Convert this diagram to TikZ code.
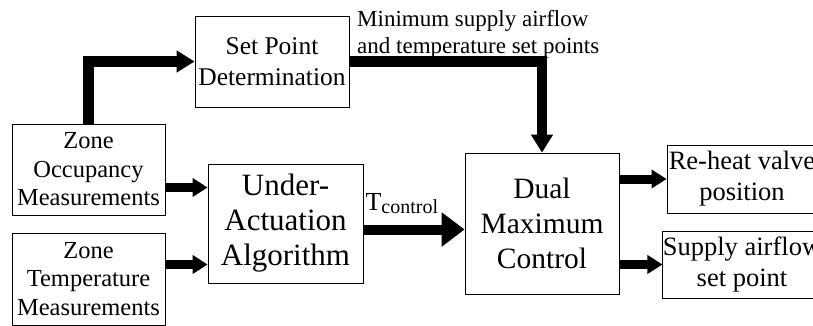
\documentclass[tikz,border=0pt]{standalone}
\usepackage{fontspec}
\setmainfont{Liberation Serif}
\usetikzlibrary{arrows.meta,positioning,calc}

\tikzset{
    block/.style={draw, line width=0.8pt, align=center, inner sep=0pt},
    bigarrow/.style={line width=10.5pt, -{Triangle[length=18pt,width=21pt]}},
    tarrow/.style={line width=10pt, -{Triangle[length=23pt,width=33pt]}},
    smallarrow/.style={line width=9pt, -{Triangle[length=15pt,width=18pt]}},
}

\begin{document}
\begin{tikzpicture}[x=1pt, y=-1pt]
    \path[use as bounding box] (0,0) rectangle (813,326);

    % Inputs
    \node[block, minimum width=153pt, minimum height=91pt, font=\fontsize{24.5}{28.5}\selectfont] (occ) at (88.5,169.5) {Zone\\Occupancy\\Measurements};
    \node[block, minimum width=153pt, minimum height=92pt, font=\fontsize{24.5}{28.5}\selectfont] (temp) at (88.5,279) {Zone\\Temperature\\Measurements};

    % Processing blocks
    \node[block, minimum width=154pt, minimum height=91pt, font=\fontsize{25.5}{31}\selectfont] (setpt) at (272,61.5) {Set Point\\Determination};
    \node[block, minimum width=155pt, minimum height=119pt, font=\fontsize{31}{35}\selectfont] (under) at (285.5,223.5) {Under-\\Actuation\\Algorithm};
    \node[block, minimum width=154pt, minimum height=141pt, font=\fontsize{29.5}{35}\selectfont] (dual) at (542,223.5) {Dual\\Maximum\\Control};

    % Outputs
    \node[block, minimum width=150pt, minimum height=68pt, font=\fontsize{26.5}{31}\selectfont] (reheat) at (742,179) {Re-heat valve\\position};
    \node[block, minimum width=150pt, minimum height=67pt, font=\fontsize{26.5}{31}\selectfont] (supply) at (742,264.5) {Supply airflow\\set point};

    % Set point path
    \draw[bigarrow] (occ.north) |- (setpt.west);
    \draw[bigarrow] (setpt.east) -| (dual.north);
    \node[anchor=north west, inner sep=0pt, align=left, font=\fontsize{23}{27}\selectfont] (spnote) at (357,10) {Minimum supply airflow\\and temperature set points};

    % Measurements into the algorithm
    \coordinate (in1) at ([yshift=36pt]under.west);
    \coordinate (in2) at ([yshift=-41pt]under.west);
    \draw[smallarrow] (occ.east |- in1) -- (in1);
    \draw[smallarrow] (temp.east |- in2) -- (in2);

    % Control temperature
    \coordinate (tc) at ([yshift=-6pt]under.east);
    \draw[tarrow] (tc) -- (tc -| dual.west);
    \node[anchor=base west, inner sep=0pt, font=\fontsize{26}{30}\selectfont] (tlabel) at ([xshift=2pt,yshift=19pt]tc) {T{\fontsize{20}{24}\selectfont\raisebox{-3pt}{control}}};

    % Outputs
    \draw[smallarrow] (dual.east |- reheat.west) -- (reheat.west);
    \draw[smallarrow] (dual.east |- supply.west) -- (supply.west);
\end{tikzpicture}
\end{document}
